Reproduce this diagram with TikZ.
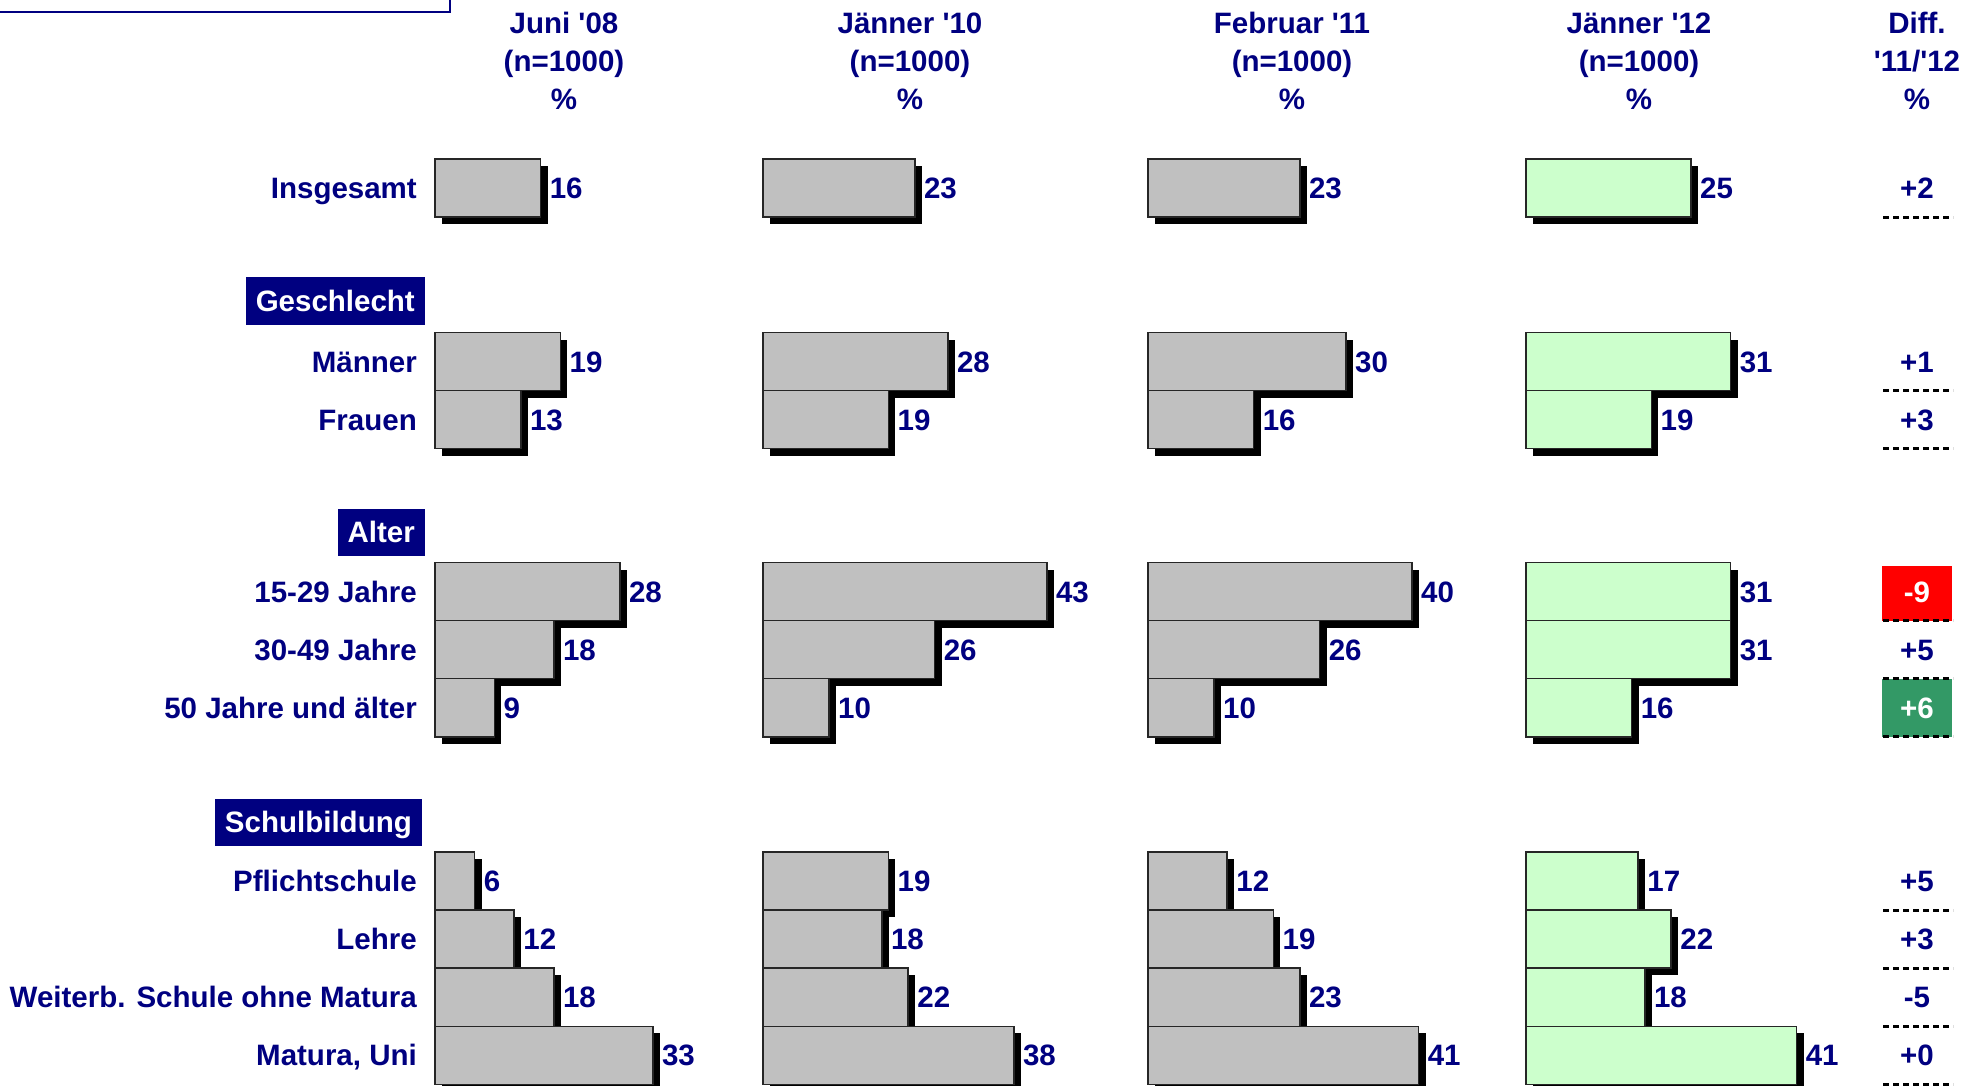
\documentclass[tikz,border=0pt]{standalone}
\usepackage{fontspec}
\setmainfont{Liberation Sans}[Ligatures=TeXOff]
\definecolor{navy}{RGB}{0,0,128}
\definecolor{bargray}{RGB}{192,192,192}
\definecolor{bargreen}{RGB}{204,255,204}
\definecolor{diffred}{RGB}{255,0,0}
\definecolor{diffgreen}{RGB}{51,153,102}
\newcommand{\bigbf}{\bfseries\fontsize{29.5}{38}\selectfont}
\tikzset{
  txt/.style={text=navy,font=\bigbf,inner sep=0pt},
  rowlabel/.style={txt,anchor=base east},
  vallabel/.style={txt,anchor=base west},
  difflabel/.style={txt,anchor=base},
  colhead/.style={txt,align=center},
  grouphead/.style={fill=navy,text=white,font=\bigbf,anchor=east,
    text height=21pt,text depth=0pt,inner xsep=10pt,inner ysep=13pt},
  bar/.style={draw=black!85,line width=1.5pt},
  dashline/.style={line width=3pt,dash pattern=on 6pt off 4pt}
}
% row top / Juni 08 / Jaenner 10 / Februar 11 / Jaenner 12
\def\chartdata{159/16/23/23/25, 332.5/19/28/30/31, 390.6/13/19/16/19,
  562.5/28/43/40/31, 620.6/18/26/26/31, 678.7/9/10/10/16,
  852/6/19/12/17, 910.1/12/18/19/22, 968.2/18/22/23/18, 1026.3/33/38/41/41}

\begin{document}
\begin{tikzpicture}[x=1pt,y=-1pt]
\useasboundingbox (0,0) rectangle (1982,1086);
% frame of the cut-off title
\draw[navy,line width=2pt] (0,12) -- (450,12) -- (450,0);

% column heads
\node[colhead] (h1) at (564,61) {Juni '08\\(n=1000)\\\%};
\node[colhead] (h2) at (910,61) {Jänner '10\\(n=1000)\\\%};
\node[colhead] (h3) at (1292,61) {Februar '11\\(n=1000)\\\%};
\node[colhead] (h4) at (1639,61) {Jänner '12\\(n=1000)\\\%};
\node[colhead] (h5) at (1917,61) {Diff.\\'11/'12\\\%};

% group heads
\node[grouphead] (g1) at (425,301) {Geschlecht};
\node[grouphead] (g2) at (425,532) {Alter};
\node[grouphead] (g3) at (422,822) {Schulbildung};

% shadows first
\foreach \rt/\va/\vb/\vc/\vd in \chartdata
  \foreach \xl/\val in {435/\va,763/\vb,1148/\vc,1526/\vd}
    \fill (\xl+7,\rt+7) rectangle ++(\val*6.6,58.1);

% bars and values
\foreach \rt/\va/\vb/\vc/\vd [count=\i] in \chartdata
  \foreach \xl/\val/\clr [count=\j] in {435/\va/bargray,763/\vb/bargray,1148/\vc/bargray,1526/\vd/bargreen}{
    \draw[bar,fill=\clr] (\xl,\rt) rectangle ++(\val*6.6,58.1);
    \node[vallabel] (v\i-\j) at (\xl+\val*6.6+9,\rt+39.5) {\val};
  }

% marks in the Diff column
\fill[diffred] (1882,565.5) rectangle (1952,620.6);
\fill[diffgreen] (1882,678.7) rectangle (1952,736.8);

% row labels and differences
\foreach \rt/\name/\dif/\dc [count=\i] in {159/Insgesamt/+2/navy, 332.5/Männer/+1/navy,
  390.6/Frauen/+3/navy, 562.5/15-29 Jahre/-9/white, 620.6/30-49 Jahre/+5/navy,
  678.7/50 Jahre und älter/+6/white, 852/Pflichtschule/+5/navy, 910.1/Lehre/+3/navy,
  968.2/Weiterb. Schule ohne Matura/-5/navy, 1026.3/{Matura, Uni}/+0/navy}{
  \node[rowlabel] (r\i) at (417,\rt+39.5) {\name};
  \node[difflabel,text=\dc] (d\i) at (1917,\rt+39.5) {\dif};
  \draw[dashline] (1883,\rt+58.1) -- (1953,\rt+58.1);
}
\end{tikzpicture}
\end{document}
